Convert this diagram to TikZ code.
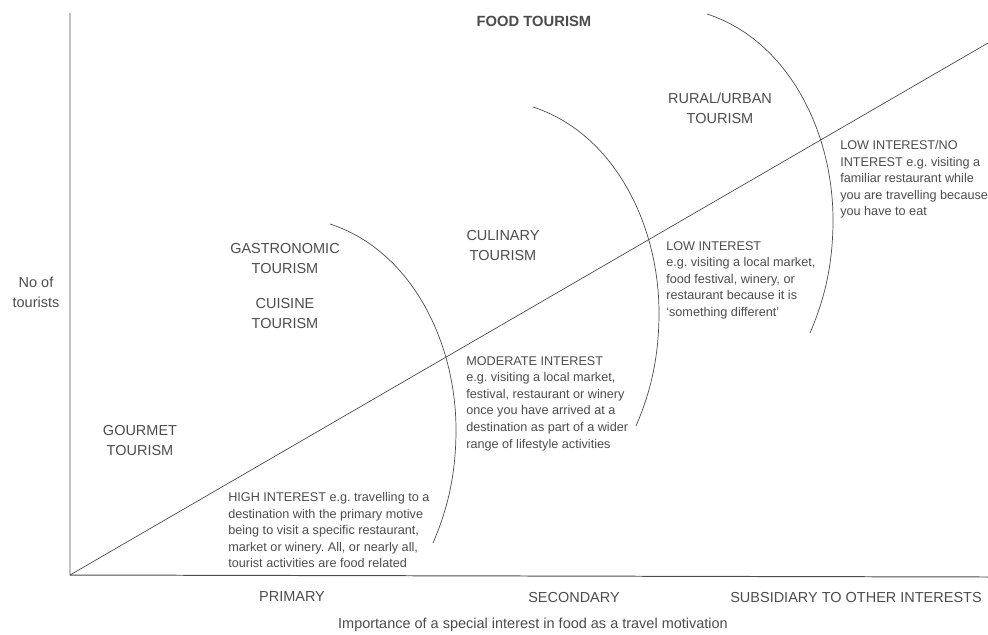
\documentclass[tikz,border=0pt]{standalone}
\usepackage{fontspec}
\setmainfont{Liberation Sans}
\usepackage{tikz}
\frenchspacing
\definecolor{inkgray}{gray}{0.3}
\tikzstyle{chartaxis}=[draw=inkgray, line width=0.7pt]
\tikzstyle{boundary}=[draw=inkgray, line width=0.5pt]
\tikzstyle{tourism}=[align=center, inner sep=0, text=inkgray, font=\fontsize{10.3}{14.2}\selectfont]
\tikzstyle{interest}=[align=left, anchor=north west, inner sep=0, text=inkgray, font=\fontsize{9}{11.8}\selectfont]
\tikzstyle{foodchart}=[x=0.025cm, y=-0.025cm,
                       % Units are pixels of the page, y grows downwards.
                       every node/.style={text depth=0pt}]

\begin{document}
\begin{tikzpicture}[foodchart]
        \useasboundingbox (0, 0) rectangle (988, 634);
        \coordinate (O) at (70, 575);
        \coordinate (ytop) at (70, 13);
        \coordinate (xend) at (988, 577);
        \coordinate (diagend) at (988, 43);
        \draw[chartaxis] (ytop) -- (O) -- (xend);
        \draw[boundary] (O) -- (diagend);
        % Three boundaries of the same shape.
        \foreach \dx/\dy in {0/0, 203/-117, 377/-210} {
            \draw[boundary, shift={(\dx, \dy)}] (330, 224) .. controls (410, 250) and (456, 340) .. (456, 430)
                .. controls (456, 480) and (445, 515) .. (433, 543);
        }
        \node[tourism, font=\fontsize{10.5}{14}\selectfont\bfseries] (food) at (534, 21) {FOOD TOURISM};
        \node[tourism] (ylab) at (36, 292) {No of\\tourists};
        \node[tourism] (gourmet) at (140, 440) {GOURMET\\TOURISM};
        \node[tourism] (gastro) at (285, 258) {GASTRONOMIC\\TOURISM};
        \node[tourism] (cuisine) at (285, 313) {CUISINE\\TOURISM};
        \node[tourism] (culinary) at (503, 245) {CULINARY\\TOURISM};
        \node[tourism] (rural) at (720, 108) {RURAL/URBAN\\TOURISM};
        \node[interest] (high) at (228, 492) {HIGH INTEREST e.g. travelling to a\\destination with the primary motive\\being to visit a specific restaurant,\\market or winery. All, or nearly all,\\tourist activities are food related};
        \node[interest] (moderate) at (466, 356) {MODERATE INTEREST\\e.g. visiting a local market,\\festival, restaurant or winery\\once you have arrived at a\\destination as part of a wider\\range of lifestyle activities};
        \node[interest] (low) at (666, 241) {LOW INTEREST\\e.g. visiting a local market,\\food festival, winery, or\\restaurant because it is\\`something different'};
        \node[interest] (lowno) at (840, 140) {LOW INTEREST/NO\\INTEREST e.g. visiting a\\familiar restaurant while\\you are travelling because\\you have to eat};
        \node[tourism] (primary) at (292, 597) {PRIMARY};
        \node[tourism] (secondary) at (574, 597) {SECONDARY};
        \node[tourism] (subsidiary) at (856, 597) {SUBSIDIARY TO OTHER INTERESTS};
        \node[tourism] (xlab) at (533, 623) {Importance of a special interest in food as a travel motivation};
    \end{tikzpicture}
\end{document}
